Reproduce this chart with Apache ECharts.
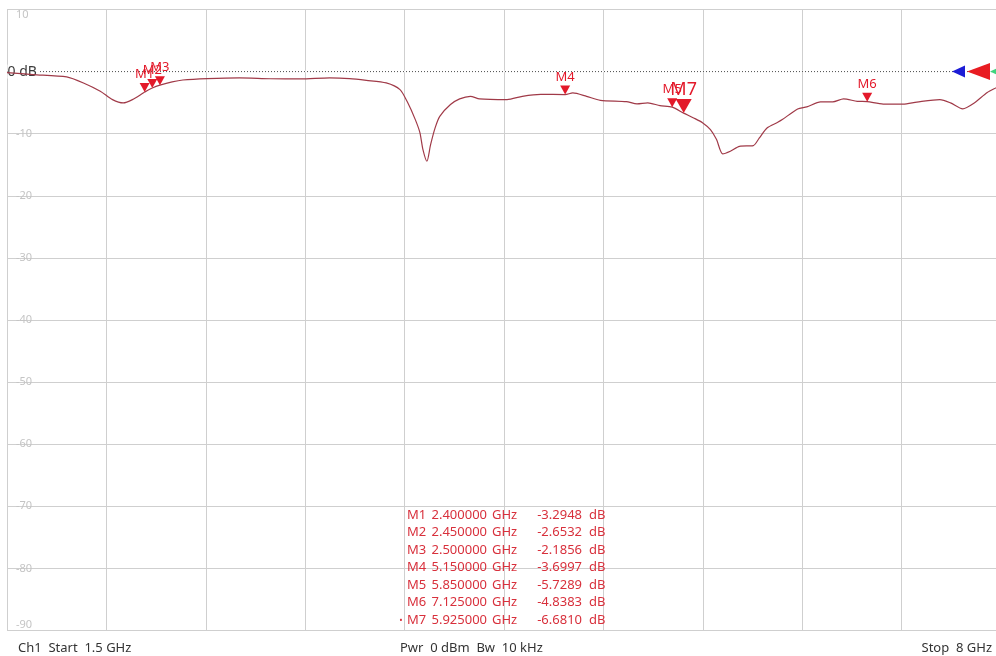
<!DOCTYPE html>
<html>
<head>
<meta charset="utf-8">
<script src="https://cdn.jsdelivr.net/npm/echarts@6/dist/echarts.min.js"></script>
<style>
  html, body { margin: 0; padding: 0; background: #ffffff; }
  #chart { width: 996px; height: 656px; }
</style>
</head>
<body>
<div id="chart"></div>
<script>
// Sweep settings (channel 1)
const startGHz = 1.5;
const stopGHz = 8;
const sourcePower = '0 dBm';
const ifBandwidth = '10 kHz';

// Measured trace: frequency (GHz) and magnitude (dB)
const traceFreqGHz = [
  1.5, 1.67, 1.89, 2.0, 2.11, 2.19, 2.26, 2.32, 2.39, 2.40, 2.45, 2.50, 2.58, 2.65,
  2.81, 3.02, 3.22, 3.42, 3.61, 3.74, 3.85, 3.98, 4.07, 4.12, 4.17, 4.20, 4.22, 4.246,
  4.27, 4.30, 4.33, 4.40, 4.46, 4.53, 4.59, 4.77, 4.87, 4.99, 5.15, 5.20, 5.29, 5.38,
  5.55, 5.62, 5.69, 5.77, 5.85, 5.925, 5.99, 6.05, 6.10, 6.14, 6.18, 6.23, 6.29, 6.38,
  6.42, 6.47, 6.54, 6.57, 6.67, 6.73, 6.82, 6.90, 6.97, 7.06, 7.125, 7.23, 7.36, 7.45,
  7.60, 7.67, 7.75, 7.82, 7.91, 7.97, 8.0
];
const traceDb = [
  -0.16, -0.48, -0.86, -1.83, -3.17, -4.51, -5.04, -4.51, -3.45, -3.2948, -2.6532, -2.1856, -1.65, -1.35,
  -1.13, -1.01, -1.15, -1.18, -1.01, -1.12, -1.40, -1.82, -2.90, -4.99, -7.73, -9.82, -12.56, -14.44,
  -11.76, -9.02, -7.20, -5.31, -4.40, -3.98, -4.40, -4.51, -3.98, -3.66, -3.6997, -3.43, -3.98, -4.62,
  -4.83, -5.20, -5.04, -5.48, -5.7289, -6.6810, -7.46, -8.26, -9.34, -10.95, -13.25, -12.83, -12.03, -11.92,
  -10.68, -9.07, -8.16, -7.73, -6.01, -5.68, -4.88, -4.88, -4.40, -4.78, -4.8383, -5.23, -5.23, -4.91,
  -4.51, -5.04, -6.01, -5.15, -3.38, -2.58, -2.2
];

// Markers
const markerNames = ['M1', 'M2', 'M3', 'M4', 'M5', 'M6', 'M7'];
const markerFreqGHz = [2.4, 2.45, 2.5, 5.15, 5.85, 7.125, 5.925];
const markerDb = [-3.2948, -2.6532, -2.1856, -3.6997, -5.7289, -4.8383, -6.6810];
const activeMarker = 'M7';

// Scale: 10 dB/div, reference level 0 dB
const yMax = 10;
const yMin = -90;
const yStep = 10;
const refLevelDb = 0;
const xDivisions = 10;

const chart = echarts.init(document.getElementById('chart'), null, { renderer: 'canvas' });

const FONT = '"Noto Sans", "Open Sans", sans-serif';
const GRID_COLOR = '#cfcfcf';
const MARKER_RED = '#e3192a';
const TEXT_RED = '#d8303c';

const tracePoints = traceFreqGHz.map((f, i) => [f, traceDb[i]]);
const refLinePoints = [[startGHz, refLevelDb], [stopGHz, refLevelDb]];

const markerPoints = markerNames.map((name, i) => {
  const active = name === activeMarker;
  return {
    name: name,
    value: [markerFreqGHz[i], markerDb[i]],
    symbolSize: active ? [16, 14] : [10, 9],
    label: {
      distance: active ? 0 : 2,
      fontSize: active ? 18 : 13
    }
  };
});

// Marker readout table
const tableX = 407;
const tableY = 515;
const rowStep = 17.5;
const tableElements = [];
markerNames.forEach((name, i) => {
  const y = tableY + i * rowStep;
  const style = { fill: TEXT_RED, font: '13px ' + FONT, verticalAlign: 'middle' };
  tableElements.push(
    { type: 'text', x: tableX, y: y, z: 7, style: Object.assign({ text: name, align: 'left' }, style) },
    { type: 'text', x: tableX + 80, y: y, z: 7, style: Object.assign({ text: markerFreqGHz[i].toFixed(6), align: 'right' }, style) },
    { type: 'text', x: tableX + 85, y: y, z: 7, style: Object.assign({ text: 'GHz', align: 'left' }, style) },
    { type: 'text', x: tableX + 175, y: y, z: 7, style: Object.assign({ text: markerDb[i].toFixed(4), align: 'right' }, style) },
    { type: 'text', x: tableX + 182, y: y, z: 7, style: Object.assign({ text: 'dB', align: 'left' }, style) }
  );
  if (name === activeMarker) {
    tableElements.push({ type: 'text', x: tableX - 6, y: y, z: 7, style: Object.assign({}, style, { text: '•', align: 'center', font: '9px ' + FONT }) });
  }
});

const footStyle = { fill: '#333333', font: '13px ' + FONT, verticalAlign: 'middle' };
const footElements = [
  { type: 'text', x: 18, y: 648, z: 7, style: Object.assign({ text: 'Ch1  Start  ' + startGHz + ' GHz', align: 'left' }, footStyle) },
  { type: 'text', x: 400, y: 648, z: 7, style: Object.assign({ text: 'Pwr  ' + sourcePower + '  Bw  ' + ifBandwidth, align: 'left' }, footStyle) },
  { type: 'text', x: 992, y: 648, z: 7, style: Object.assign({ text: 'Stop  ' + stopGHz + ' GHz', align: 'right' }, footStyle) }
];

const option = {
  animation: false,
  backgroundColor: '#ffffff',
  grid: { left: 7, top: 9.5, width: 994, height: 621, outerBoundsMode: 'none', containLabel: false },
  xAxis: [
    {
      type: 'value',
      min: startGHz,
      max: stopGHz,
      axisLine: { show: false },
      axisTick: { show: false },
      axisLabel: { show: false },
      splitLine: { show: false }
    },
    {
      // division lines: equal divisions across the sweep
      type: 'value',
      min: 0,
      max: xDivisions,
      interval: 1,
      axisLine: { show: false },
      axisTick: { show: false },
      axisLabel: { show: false },
      splitLine: { show: true, showMinLine: true, showMaxLine: true, lineStyle: { color: GRID_COLOR, width: 1 } }
    }
  ],
  yAxis: {
    type: 'value',
    min: yMin,
    max: yMax,
    interval: yStep,
    axisLine: { show: false },
    axisTick: { show: false },
    splitLine: { show: true, showMinLine: true, showMaxLine: true, lineStyle: { color: GRID_COLOR, width: 1 } },
    axisLabel: {
      inside: true,
      margin: 9,
      color: '#c4c4c4',
      fontSize: 11,
      fontFamily: FONT,
      verticalAlignMinLabel: 'bottom',
      verticalAlignMaxLabel: 'top',
      formatter: v => (v === refLevelDb ? '' : String(v))
    }
  },
  series: [
    {
      // white underlay hides the 0 dB grid line beneath the dotted reference line
      name: 'RefUnderlay',
      type: 'line',
      data: refLinePoints,
      showSymbol: false,
      silent: true,
      lineStyle: { color: '#ffffff', width: 1.5 },
      z: 1
    },
    {
      name: 'Reference',
      type: 'line',
      data: refLinePoints,
      showSymbol: false,
      silent: true,
      lineStyle: { color: '#4a4a4a', width: 1, type: [1, 2] },
      z: 2
    },
    {
      name: 'S21',
      type: 'line',
      data: tracePoints,
      showSymbol: false,
      smooth: 0.25,
      lineStyle: { color: '#a03a48', width: 1.2 },
      z: 4
    },
    {
      name: 'Markers',
      type: 'scatter',
      data: markerPoints,
      symbol: 'path://M0,0L10,0L5,9Z',
      symbolOffset: [0, '-50%'],
      itemStyle: { color: MARKER_RED, opacity: 1 },
      label: {
        show: true,
        position: 'top',
        formatter: p => p.name,
        color: MARKER_RED,
        fontFamily: FONT
      },
      z: 5
    }
  ],
  graphic: tableElements.concat(footElements)
};

chart.setOption(option);

// Reference level label and pointers at 0 dB
const left = chart.convertToPixel({ xAxisIndex: 0, yAxisIndex: 0 }, [startGHz, refLevelDb]);
const ref = chart.convertToPixel({ xAxisIndex: 0, yAxisIndex: 0 }, [stopGHz, refLevelDb]);
const rx = ref[0];
const ry = ref[1];
const pointer = (apex, base, half, color) => ({
  type: 'polygon',
  shape: { points: [[apex, ry], [base, ry - half], [base, ry + half]] },
  style: { fill: color },
  z: 6
});
chart.setOption({
  graphic: tableElements.concat(footElements, [
    {
      type: 'text', x: left[0] + 0.5, y: left[1], z: 3,
      style: {
        text: refLevelDb + ' dB', fill: '#3a3a3a', font: '14px ' + FONT,
        align: 'left', verticalAlign: 'middle',
        backgroundColor: '#ffffff', padding: [0, 2, 0, 0]
      }
    },
    pointer(rx - 49, rx - 36, 6, '#1c1cd6'),
    pointer(rx - 34, rx - 11, 8.5, '#e81c22'),
    pointer(rx - 11, rx + 2, 6, '#3fd47e')
  ])
});
</script>
</body>
</html>
